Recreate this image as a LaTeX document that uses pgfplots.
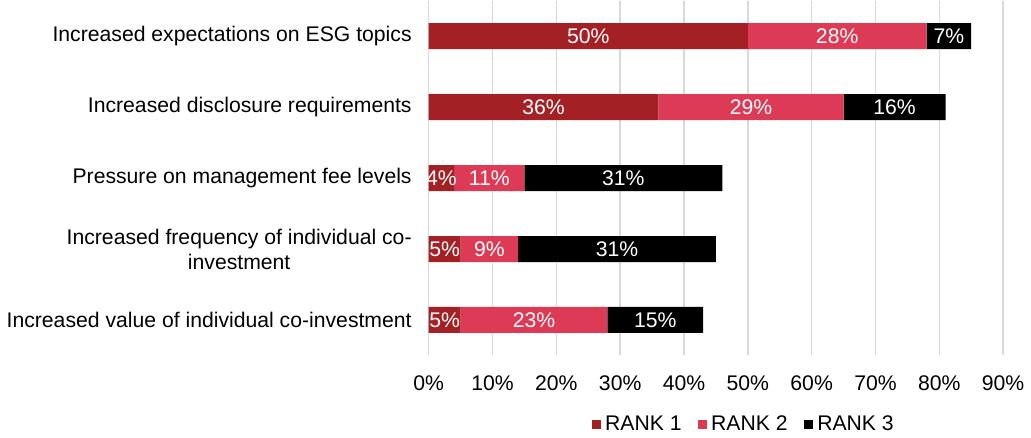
\documentclass[border=0pt]{standalone}
\usepackage{pgfplots}
\pgfplotsset{compat=1.18}
\usepackage{fontspec}
\setmainfont{Liberation Sans}
\definecolor{rankone}{HTML}{A32024}
\definecolor{ranktwo}{HTML}{DC3A55}
\definecolor{rankthree}{HTML}{000000}
\definecolor{gridcol}{HTML}{D9D9D9}
\newcommand{\pct}{\%}

\begin{document}
\begin{tikzpicture}
\pgfplotsset{
  base/.style={
    width=287.5pt, height=177.5pt, scale only axis,
    xmin=0, xmax=90, ymin=-0.5, ymax=4.5,
    y dir=reverse,
    /pgf/number format/assume math mode=true,
  },
}
\begin{axis}[
  base,
  xbar stacked,
  bar width=13pt,
  axis line style={draw=none},
  xtick={0,10,...,90},
  xmajorgrids=true,
  major grid style={gridcol, line width=0.75pt},
  major tick length=0pt,
  xticklabel={\pgfmathprintnumber{\tick}\pct},
  xticklabel style={font=\fontsize{10.6}{12.5}\selectfont, yshift=-6.5pt},
  ytick={0,1,2,3,4},
  yticklabels={
    {Increased expectations on ESG topics},
    {Increased disclosure requirements},
    {Pressure on management fee levels},
    {Increased frequency of individual co-\\investment},
    {Increased value of individual co-investment}},
  yticklabel style={font=\fontsize{10.6}{12.5}\selectfont, align=center, xshift=-5pt},
  legend columns=3,
  legend style={at={(0.55,-0.195)}, anchor=center, draw=none,
    font=\fontsize{10.6}{12.5}\selectfont,
    /tikz/every even column/.append style={column sep=6pt},
    inner sep=0pt},
  legend image code/.code={\fill[#1] (0pt,-2.4pt) rectangle (4.8pt,2.4pt);},
]
% rank 1
\addplot[fill=rankone, draw=none] coordinates {
  (50,0) (36,1) (4,2) (5,3) (5,4)
};
% rank 2
\addplot[fill=ranktwo, draw=none] coordinates {
  (28,0) (29,1) (11,2) (9,3) (23,4)
};
% rank 3
\addplot[fill=rankthree, draw=none] coordinates {
  (7,0) (16,1) (31,2) (31,3) (15,4)
};
\legend{RANK 1, RANK 2, RANK 3}
\end{axis}

% labels centred in each segment
\begin{axis}[
  base,
  hide axis,
  nodes near coords={\pgfplotspointmeta},
  nodes near coords style={anchor=center, text=white,
    font=\fontsize{10.6}{12.5}\selectfont},
  point meta=explicit symbolic,
]
\addplot[draw=none, mark=none, nodes near coords] table[meta=v] {
x y v
25 0 50\pct
64 0 28\pct
81.5 0 7\pct
18 1 36\pct
50.5 1 29\pct
73 1 16\pct
2 2 4\pct
9.5 2 11\pct
30.5 2 31\pct
2.5 3 5\pct
9.5 3 9\pct
29.5 3 31\pct
2.5 4 5\pct
16.5 4 23\pct
35.5 4 15\pct
};
\end{axis}
\end{tikzpicture}
\end{document}
